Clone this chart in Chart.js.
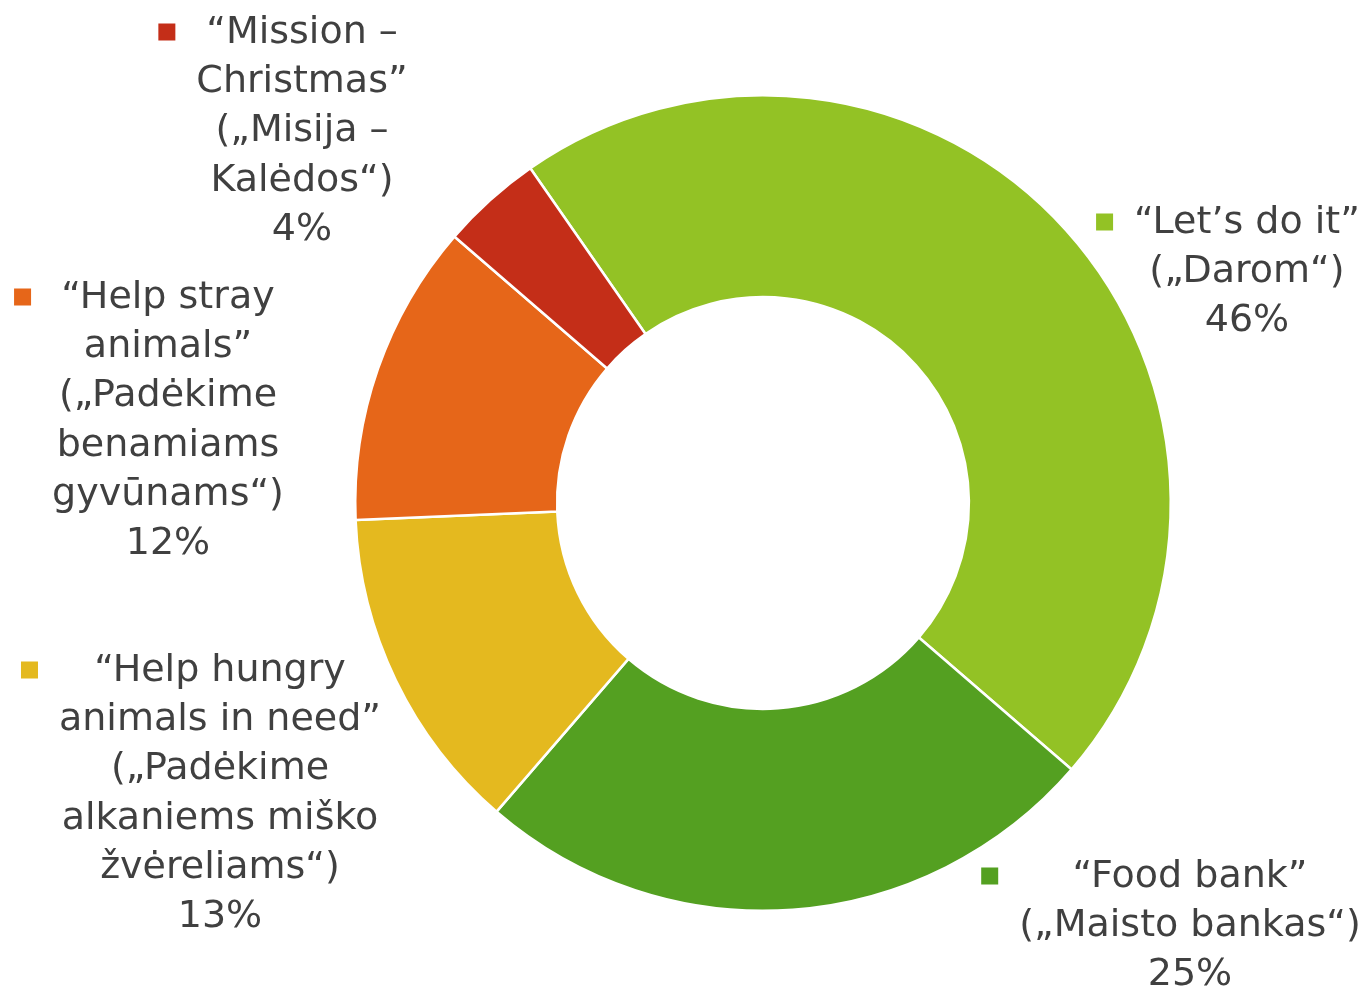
<!DOCTYPE html>
<html>
<head>
<meta charset="utf-8">
<script src="https://cdn.jsdelivr.net/npm/chart.js@4.4.1/dist/chart.umd.min.js"></script>
<style>
html,body{margin:0;padding:0;background:#fff;}
#wrap{position:relative;width:1370px;height:991px;}
</style>
</head>
<body>
<div id="wrap"><canvas id="c" width="1370" height="991"></canvas></div>
<script>
// ---- data ----
const categories = [
  ["“Let’s do it”", "(„Darom“)"],
  ["“Food bank”", "(„Maisto bankas“)"],
  ["“Help hungry", "animals in need”", "(„Padėkime", "alkaniems miško", "žvėreliams“)"],
  ["“Help stray", "animals”", "(„Padėkime", "benamiams", "gyvūnams“)"],
  ["“Mission –", "Christmas”", "(„Misija –", "Kalėdos“)"]
];
const values = [46, 25, 13, 12, 4];
const colors = ["#93C225", "#54A021", "#E4B91F", "#E66619", "#C42E18"];

// ---- label layout (block center x, first-line center y) ----
const labelAnchors = [
  [1247, 223],
  [1190, 877],
  [220, 671],
  [168, 298],
  [302, 33]
];
const FONT = '38px "DejaVu Sans"';
const LINE_H = 49.3;
const TEXT_COLOR = '#404040';

const labelPlugin = {
  id: 'dataLabels',
  afterDraw(chart) {
    const ctx = chart.ctx;
    const total = values.reduce((a, b) => a + b, 0);
    ctx.save();
    ctx.font = FONT;
    ctx.textBaseline = 'middle';
    ctx.textAlign = 'center';
    categories.forEach((lines, i) => {
      const pct = Math.round(values[i] / total * 100) + '%';
      const all = lines.concat([pct]);
      const [cx, cy] = labelAnchors[i];
      let maxW = 0;
      all.forEach(t => { maxW = Math.max(maxW, ctx.measureText(t).width); });
      ctx.fillStyle = colors[i];
      ctx.fillRect(cx - maxW / 2 - 38, cy - 9.5, 17, 17);
      ctx.fillStyle = TEXT_COLOR;
      all.forEach((t, k) => ctx.fillText(t, cx, cy + k * LINE_H));
    });
    ctx.restore();
  }
};

new Chart(document.getElementById('c'), {
  type: 'doughnut',
  data: {
    labels: categories.map(l => l.join(' ')),
    datasets: [{
      data: values,
      backgroundColor: colors,
      borderColor: '#ffffff',
      borderWidth: 2.5
    }]
  },
  options: {
    responsive: false,
    animation: false,
    rotation: -34.8,
    cutout: '50.5%',
    layout: { padding: { left: 354, right: 198, top: 94, bottom: 79 } },
    plugins: { legend: { display: false }, tooltip: { enabled: false } }
  },
  plugins: [labelPlugin]
});
</script>
</body>
</html>
